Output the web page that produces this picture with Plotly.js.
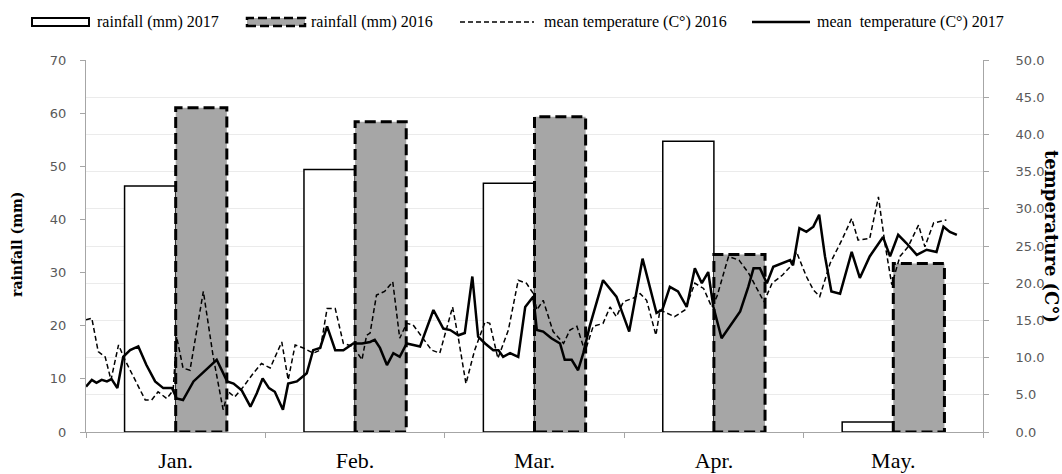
<!DOCTYPE html>
<html>
<head>
<meta charset="utf-8">
<script src="https://cdn.plot.ly/plotly-3.0.1.min.js"></script>
<style>
html,body{margin:0;padding:0;background:#fff;}
#chart{width:1062px;height:474px;}
</style>
</head>
<body>
<div id="chart"></div>
<script>
// ---- data ----
const months = ['Jan.', 'Feb.', 'Mar.', 'Apr.', 'May.'];
const rain2017 = [46.3, 49.4, 46.8, 54.7, 1.9];
const rain2016 = [61.0, 58.4, 59.3, 33.4, 31.7];

const days2017 = [1.0,2.0,2.8,3.7,4.6,5.4,6.4,7.4,8.6,10.0,11.4,12.9,14.3,15.8,16.6,17.7,19.5,21.5,23.5,25.3,26.4,27.8,29.3,30.4,31.4,32.5,33.5,34.9,35.8,37.3,39.0,40.1,41.3,42.5,43.9,45.3,47.0,48.5,49.9,50.7,51.6,52.8,53.9,55.0,56.2,58.5,60.8,62.5,63.7,65.1,66.2,67.5,68.5,69.7,71.1,72.0,72.8,74.0,75.4,76.6,78.0,78.6,79.7,81.1,82.6,83.4,84.6,85.7,86.6,87.7,90.0,92.3,94.5,96.8,99.2,100.2,101.5,102.9,104.4,105.8,107.0,108.1,109.0,110.4,113.6,115.0,115.9,117.0,118.2,119.3,121.0,122.2,122.7,123.8,125.0,126.2,127.2,128.2,129.3,130.8,132.8,134.2,135.9,138.2,139.4,140.8,142.2,144.0,145.7,147.4,148.6,149.7,150.9];
const temp2017 = [6.1,7.0,6.6,7.0,6.8,7.1,5.9,10.1,11.0,11.5,9.0,6.8,5.9,5.9,4.5,4.3,6.8,8.3,9.7,6.8,6.5,5.6,3.4,5.2,7.2,5.9,5.4,3.0,6.5,6.8,7.9,11.0,11.3,14.2,11.0,11.0,11.9,11.9,12.1,12.4,11.3,9.0,10.6,10.1,11.9,11.5,16.4,13.9,13.7,13.0,13.3,20.9,12.8,11.9,11.0,11.0,10.1,10.6,10.1,16.8,18.2,13.7,13.5,12.6,11.9,9.7,9.7,8.3,10.6,14.2,20.4,18.2,13.5,23.3,16.0,16.4,19.5,18.9,16.8,22.0,20.0,21.5,16.8,12.6,16.2,19.5,22.0,22.0,20.0,22.2,22.7,23.1,22.4,27.4,26.9,27.6,29.2,23.6,18.9,18.6,24.2,20.7,23.6,26.2,23.6,26.5,25.4,23.8,24.5,24.2,27.6,26.9,26.5];

const days2016 = [1.0,2.0,3.1,4.3,5.3,6.6,7.7,9.4,11.2,12.3,13.4,14.9,16.0,16.6,17.7,18.9,21.2,22.9,24.6,25.5,26.6,28.1,29.8,31.2,32.7,34.7,35.8,37.0,38.4,40.1,41.3,42.5,43.9,45.3,47.0,48.5,49.3,49.9,51.0,52.4,53.8,55.0,56.2,57.3,59.1,60.5,61.9,64.1,65.1,66.4,67.9,69.7,70.5,71.9,73.7,75.4,76.8,78.0,78.6,79.7,81.4,83.2,84.3,85.5,86.9,88.3,90.0,91.2,92.3,93.5,95.2,96.4,97.5,99.1,99.8,102.3,104.1,105.8,107.3,108.7,109.6,111.6,113.4,115.1,116.6,117.7,119.1,120.9,122.2,123.3,125.0,126.2,127.3,129.1,131.1,132.8,133.9,135.9,137.4,138.5,139.7,141.1,142.5,144.3,145.4,146.9,149.1];
const temp2016 = [15.1,15.3,10.8,10.1,7.0,11.7,9.7,7.0,4.3,4.3,5.4,4.5,5.6,12.8,8.6,8.3,18.9,10.1,3.0,5.4,4.7,6.1,7.9,9.2,8.6,12.1,7.0,11.7,11.3,10.6,11.0,16.6,16.6,11.9,11.5,9.7,13.0,13.3,18.4,18.9,20.2,12.6,14.6,14.4,12.4,11.0,10.6,16.8,12.6,6.5,11.0,14.8,14.6,9.9,13.7,20.4,20.0,18.6,16.4,17.7,13.5,11.9,13.7,14.2,10.8,14.2,14.6,16.8,15.5,17.5,18.0,18.6,17.7,13.0,16.4,15.5,16.4,20.0,19.3,16.8,18.2,23.6,23.1,21.3,19.1,17.5,20.0,21.1,22.2,24.2,20.9,19.1,18.2,22.7,25.8,28.7,25.8,26.0,31.6,25.4,19.8,23.6,24.9,27.8,24.9,28.1,28.5];

const seriesNames = ['rainfall (mm) 2017', 'rainfall (mm) 2016', 'mean temperature (C°) 2016', 'mean  temperature (C°) 2017'];

// ---- build ----
const xIdx = months.map((m, i) => i);
const bargap = 0.43;
const barW = (1 - bargap) / 2;

// dashed outline path for 2016 bars (derived from the data)
const ox = [], oy = [];
rain2016.forEach((v, i) => {
  const x0 = i, x1 = i + barW;
  ox.push(x0, x0, x1, x1, x0, null);
  oy.push(0, v, v, 0, 0, null);
});

const serif = 'Liberation Serif, Times New Roman, serif';
const wideSerif = 'DejaVu Serif, serif';
const sans = 'DejaVu Sans, sans-serif';

const data = [
  {
    type: 'bar', name: seriesNames[0], x: xIdx, y: rain2017,
    xaxis: 'x', yaxis: 'y',
    marker: {color: '#ffffff', line: {color: '#000000', width: 1.5}},
    hoverinfo: 'skip'
  },
  {
    type: 'bar', name: seriesNames[1], x: xIdx, y: rain2016,
    xaxis: 'x', yaxis: 'y',
    marker: {color: '#a6a6a6', line: {color: '#a6a6a6', width: 0}},
    hoverinfo: 'skip'
  },
  {
    type: 'scatter', mode: 'lines', x: ox, y: oy, xaxis: 'x', yaxis: 'y',
    showlegend: false, hoverinfo: 'skip', connectgaps: false,
    line: {color: '#000000', width: 3, dash: '11px,5px'}
  },
  {
    type: 'scatter', mode: 'lines', name: seriesNames[2],
    x: days2016, y: temp2016, xaxis: 'x2', yaxis: 'y2',
    line: {color: '#000000', width: 1.5, dash: '5px,3px'}
  },
  {
    type: 'scatter', mode: 'lines', name: seriesNames[3],
    x: days2017, y: temp2017, xaxis: 'x2', yaxis: 'y2',
    line: {color: '#000000', width: 2.5}
  }
];

// ---- hand-drawn legend row (paper coordinates) ----
const PL = 86, PW = 897, PB = 432, PH = 372;
const px = v => (v - PL) / PW;
const py = v => (PB - v) / PH;
const legY = 22;
const shapes = [
  {type: 'rect', xref: 'paper', yref: 'paper', x0: px(32), x1: px(89), y0: py(26), y1: py(18),
   fillcolor: '#ffffff', line: {color: '#000', width: 2}},
  {type: 'rect', xref: 'paper', yref: 'paper', x0: px(247), x1: px(305), y0: py(26), y1: py(18),
   fillcolor: '#a6a6a6', line: {color: '#000', width: 2.5, dash: '9px,4px'}},
  {type: 'line', xref: 'paper', yref: 'paper', x0: px(460), x1: px(534), y0: py(legY), y1: py(legY),
   line: {color: '#000', width: 1.5, dash: '5px,3px'}},
  {type: 'line', xref: 'paper', yref: 'paper', x0: px(752), x1: px(810), y0: py(legY), y1: py(legY),
   line: {color: '#000', width: 2.5}}
];
const legX = [95, 309, 542, 815];
const legendAnn = seriesNames.map((n, i) => ({
  text: n, xref: 'paper', yref: 'paper', x: px(legX[i]), y: py(legY),
  xanchor: 'left', yanchor: 'middle', showarrow: false,
  font: {family: serif, size: 16, color: '#000'}
}));

const layout = {
  width: 1062, height: 474,
  margin: {l: 86, r: 79, t: 60, b: 42, autoexpand: false},
  paper_bgcolor: '#ffffff', plot_bgcolor: '#ffffff',
  barmode: 'group', bargap: bargap, bargroupgap: 0,
  showlegend: false,
  xaxis: {
    type: 'linear', range: [-0.5, 4.5],
    tickmode: 'array', tickvals: xIdx, ticktext: months,
    ticks: '', showgrid: false, zeroline: false,
    showline: true, linecolor: '#a6a6a6', linewidth: 1,
    tickfont: {family: serif, size: 22, color: '#000'},
    ticklabelstandoff: 9,
    minor: {tickmode: 'array', tickvals: [-0.5, 0.5, 1.5, 2.5, 3.5, 4.5], ticks: 'outside', ticklen: 5, tickcolor: '#a6a6a6', showgrid: false}
  },
  xaxis2: {
    type: 'linear', overlaying: 'x', range: [1, 155.4], visible: false
  },
  yaxis: {
    range: [0, 70], dtick: 10, tick0: 0,
    ticks: 'outside', ticklen: 5, tickcolor: '#a6a6a6',
    showline: true, linecolor: '#a6a6a6', linewidth: 1,
    showgrid: false, zeroline: false,
    tickfont: {family: sans, size: 13, color: '#595959'},
    ticklabelstandoff: 11
  },
  yaxis2: {
    overlaying: 'y', side: 'right', range: [0, 50], dtick: 5, tick0: 0,
    tickformat: '.1f',
    ticks: 'outside', ticklen: 5, tickcolor: '#a6a6a6',
    showline: true, linecolor: '#a6a6a6', linewidth: 1,
    showgrid: true, gridcolor: '#ebebeb', gridwidth: 1, zeroline: false,
    tickfont: {family: sans, size: 13, color: '#595959'},
    ticklabelstandoff: 24
  },
  shapes: shapes,
  annotations: legendAnn.concat([
    {
      text: '<b>rainfall (mm)</b>', xref: 'paper', yref: 'paper',
      x: px(17), y: py(245), xanchor: 'center', yanchor: 'middle',
      textangle: -90, showarrow: false,
      font: {family: wideSerif, size: 14, color: '#000'}
    },
    {
      text: '<b>temperature (C°)</b>', xref: 'paper', yref: 'paper',
      x: px(1052), y: py(236), xanchor: 'center', yanchor: 'middle',
      textangle: 90, showarrow: false,
      font: {family: wideSerif, size: 18, color: '#000'}
    }
  ])
};

Plotly.newPlot('chart', data, layout, {displayModeBar: false, staticPlot: true});
</script>
</body>
</html>
